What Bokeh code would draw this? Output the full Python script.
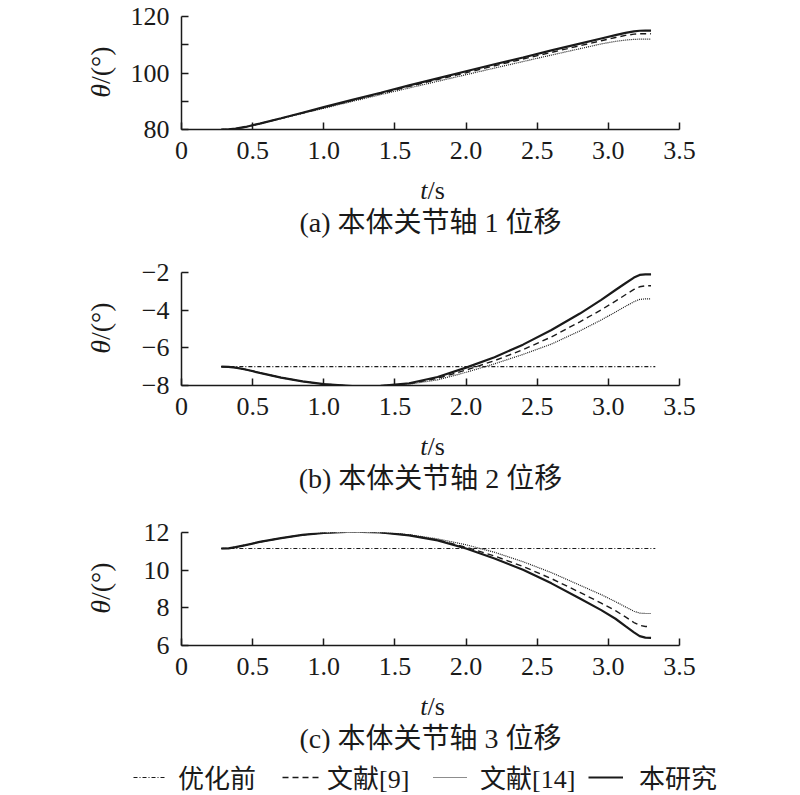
import math
from bokeh.plotting import figure
from bokeh.models import Label, FixedTicker, Legend, LegendItem, Range1d
from bokeh.layouts import column, row
from bokeh.embed import file_html
from bokeh.resources import INLINE

# ---------------- data ----------------
t = [0.28, 0.33, 0.38, 0.45, 0.55, 0.7, 0.85, 1.0, 1.2, 1.4, 1.6, 1.8, 2.0, 2.2,
     2.4, 2.6, 2.8, 2.95, 3.05, 3.12, 3.18, 3.22, 3.26, 3.3]
t_before = [0.28, 3.33]

# (a) joint 1
a_ours = [80.0, 80.05, 80.3, 80.9, 82.1, 84.0, 85.95, 87.9, 90.5, 93.0, 95.6, 98.1,
          100.6, 103.1, 105.5, 108.0, 110.4, 112.2, 113.4, 114.2, 114.75, 114.95,
          115.0, 115.0]
a_ref9 = [80.0, 80.05, 80.3, 80.9, 82.1, 83.95, 85.85, 87.75, 90.3, 92.75, 95.25, 97.7,
          100.1, 102.55, 104.95, 107.3, 109.65, 111.4, 112.55, 113.3, 113.75, 113.88,
          113.9, 113.9]
a_ref14 = [80.0, 80.05, 80.3, 80.9, 82.0, 83.85, 85.7, 87.5, 89.95, 92.35, 94.7, 97.05,
           99.4, 101.75, 104.05, 106.35, 108.6, 110.3, 111.2, 111.65, 111.9, 111.98,
           112.0, 112.0]
a_before = [80.0, 80.0]

# (b) joint 2
b_ours = [-7.0, -7.01, -7.05, -7.15, -7.33, -7.58, -7.78, -7.93, -8.03, -8.02, -7.88,
          -7.55, -7.05, -6.5, -5.83, -5.05, -4.18, -3.45, -2.93, -2.57, -2.27, -2.13,
          -2.1, -2.1]
b_ref9 = [-7.0, -7.01, -7.05, -7.15, -7.33, -7.58, -7.78, -7.93, -8.03, -8.02, -7.9,
          -7.62, -7.18, -6.68, -6.1, -5.42, -4.62, -3.98, -3.52, -3.18, -2.9, -2.76,
          -2.71, -2.7]
b_ref14 = [-7.0, -7.01, -7.05, -7.15, -7.33, -7.58, -7.78, -7.93, -8.03, -8.02, -7.93,
           -7.7, -7.3, -6.85, -6.35, -5.8, -5.1, -4.52, -4.1, -3.8, -3.55, -3.43,
           -3.4, -3.4]
b_before = [-7.0, -7.0]

# (c) joint 3
c_ours = [11.15, 11.16, 11.22, 11.33, 11.5, 11.7, 11.87, 11.98, 12.05, 12.0, 11.85,
          11.58, 11.15, 10.62, 10.02, 9.3, 8.5, 7.88, 7.42, 7.03, 6.7, 6.5, 6.42, 6.4]
c_ref9 = [11.15, 11.16, 11.22, 11.33, 11.5, 11.7, 11.87, 11.98, 12.05, 12.0, 11.86,
          11.6, 11.22, 10.75, 10.2, 9.55, 8.82, 8.25, 7.85, 7.52, 7.22, 7.07, 7.01, 7.0]
c_ref14 = [11.15, 11.16, 11.22, 11.33, 11.5, 11.7, 11.87, 11.98, 12.05, 12.0, 11.88,
           11.66, 11.35, 10.95, 10.45, 9.87, 9.2, 8.7, 8.33, 8.05, 7.82, 7.72, 7.7, 7.7]
c_before = [11.15, 11.15]

x_ticks = [0, 0.5, 1.0, 1.5, 2.0, 2.5, 3.0, 3.5]
x_tick_labels = ["0", "0.5", "1.0", "1.5", "2.0", "2.5", "3.0", "3.5"]

a_yticks = [80, 100, 120]
a_ylabels = ["80", "100", "120"]
a_yminor = [90, 110]
b_yticks = [-8, -6, -4, -2]
b_ylabels = ["\u22128", "\u22126", "\u22124", "\u22122"]
c_yticks = [6, 8, 10, 12]
c_ylabels = ["6", "8", "10", "12"]

captions = ["(a) 本体关节轴 1 位移", "(b) 本体关节轴 2 位移", "(c) 本体关节轴 3 位移"]
series_names = ["优化前", "文献[9]", "文献[14]", "本研究"]

# ---------------- styles / geometry ----------------
SERIF = "Liberation Serif"
MIXED = "'Liberation Serif', 'Noto Sans CJK SC'"
FS = "26px"
FS_CAP = "28px"
FS_YT = "28px"
INK = "#1a1a1a"
TOTAL_W = 790
YLAB_W = 120            # strip holding the rotated y title
FRAME_W, FRAME_H = 498, 113
LEFT = 61               # left border of plot (tick labels) -> axis at x=181
RIGHT = TOTAL_W - YLAB_W - LEFT - FRAME_W
TOP, BOTTOM = 16, 46
ROW_H = TOP + FRAME_H + BOTTOM

STYLES = {
    "before": dict(line_color=INK, line_width=1.2, line_dash="4 2 1 2"),
    "ref9": dict(line_color=INK, line_width=1.4, line_dash="6 4"),
    "ref14": dict(line_color=INK, line_width=1.2, line_dash="1 1"),
    "ours": dict(line_color=INK, line_width=2.2),
}


def blank(width, height):
    f = figure(frame_width=width, frame_height=height, min_border=0,
               x_range=Range1d(0, 1), y_range=Range1d(0, 1),
               x_axis_location=None, y_axis_location=None,
               output_backend="svg", toolbar_location=None)
    f.grid.visible = False
    f.outline_line_color = None
    f.border_fill_color = "white"
    f.background_fill_color = "white"
    return f


def make_block(yrange, yticks, ylabels, yminor, before, ref9, ref14, ours, caption, cap_h):
    p = figure(frame_width=FRAME_W, frame_height=FRAME_H,
               x_range=Range1d(0, 3.5), y_range=Range1d(*yrange),
               output_backend="svg", toolbar_location=None,
               min_border_left=LEFT, min_border_right=RIGHT,
               min_border_top=TOP, min_border_bottom=BOTTOM)
    p.outline_line_color = None
    p.grid.visible = False
    p.background_fill_color = "white"
    p.border_fill_color = "white"

    p.xaxis.ticker = FixedTicker(ticks=x_ticks)
    p.xaxis.major_label_overrides = dict(zip(x_ticks, x_tick_labels))
    p.yaxis.ticker = FixedTicker(ticks=yticks, minor_ticks=yminor)
    p.yaxis.major_label_overrides = dict(zip(yticks, ylabels))
    for ax in (p.xaxis[0], p.yaxis[0]):
        ax.axis_line_color = INK
        ax.axis_line_width = 1.5
        ax.major_tick_line_color = INK
        ax.major_tick_line_width = 1.5
        ax.major_tick_in = 7
        ax.major_tick_out = 0
        ax.minor_tick_line_color = INK
        ax.minor_tick_line_width = 1.5
        ax.minor_tick_in = 7
        ax.minor_tick_out = 0
        ax.major_label_text_font = SERIF
        ax.major_label_text_font_size = FS
        ax.major_label_text_color = INK
    p.xaxis.major_label_standoff = 12
    p.yaxis.major_label_standoff = 12

    p.line(t_before, before, **STYLES["before"])
    p.line(t, ref14, **STYLES["ref14"])
    p.line(t, ref9, **STYLES["ref9"])
    p.line(t, ours, **STYLES["ours"])

    # rotated y title in its own strip
    ylab = blank(YLAB_W, ROW_H)
    yj = BOTTOM + FRAME_H / 2 + 5
    ylab.add_layout(Label(x=100, y=yj, x_units="screen", y_units="screen", text="θ",
                          angle=math.pi / 2, text_font=SERIF, text_font_style="italic",
                          text_font_size=FS_YT, text_align="right", text_baseline="middle",
                          text_color=INK))
    ylab.add_layout(Label(x=100, y=yj, x_units="screen", y_units="screen", text="/(°)",
                          angle=math.pi / 2, text_font=SERIF, text_font_size=FS_YT,
                          text_align="left", text_baseline="middle", text_color=INK))

    # x title and caption strip
    cap = blank(TOTAL_W, cap_h)
    xj = YLAB_W + LEFT + FRAME_W / 2 - 3
    cap.add_layout(Label(x=xj, y=cap_h - 15, x_units="screen", y_units="screen", text="t",
                         text_font=SERIF, text_font_style="italic", text_font_size=FS,
                         text_align="right", text_baseline="middle", text_color=INK))
    cap.add_layout(Label(x=xj, y=cap_h - 15, x_units="screen", y_units="screen", text="/s",
                         text_font=SERIF, text_font_size=FS,
                         text_align="left", text_baseline="middle", text_color=INK))
    cap.add_layout(Label(x=xj + 3, y=cap_h - 47, x_units="screen", y_units="screen",
                         text=caption, text_font=MIXED, text_font_size=FS_CAP,
                         text_align="center", text_baseline="middle", text_color=INK))
    return column(row(ylab, p, spacing=0), cap, spacing=0)


blk_a = make_block((80, 120), a_yticks, a_ylabels, a_yminor, a_before, a_ref9, a_ref14,
                   a_ours, captions[0], 256 - ROW_H)
blk_b = make_block((-8, -2), b_yticks, b_ylabels, [], b_before, b_ref9, b_ref14,
                   b_ours, captions[1], 260 - ROW_H)
blk_c = make_block((6, 12), c_yticks, c_ylabels, [], c_before, c_ref9, c_ref14,
                   c_ours, captions[2], 62)

# legend strip
LEG_H = 795 - 256 - 260 - ROW_H - 62
pl = blank(TOTAL_W, LEG_H)
renderers = [pl.line(x=[-2, -1], y=[-2, -2], **STYLES[k])
             for k in ("before", "ref9", "ref14", "ours")]
leg_x = [133, 282, 433, 588]
leg_glyph_w = [32, 38, 34, 35]
leg_standoff = [13, 7, 13, 16]
for name, r, lx, gw, so in zip(series_names, renderers, leg_x, leg_glyph_w, leg_standoff):
    lg = Legend(items=[LegendItem(label=name, renderers=[r])],
                location=(lx, LEG_H - 17 - 15 - 10), orientation="horizontal",
                glyph_width=gw, glyph_height=30, label_height=30, label_standoff=so,
                padding=0, margin=0, border_line_color=None, background_fill_alpha=0,
                label_text_font=MIXED, label_text_font_size=FS, label_text_color=INK,
                label_text_baseline="middle")
    pl.add_layout(lg)

layout = column(blk_a, blk_b, blk_c, pl, spacing=0)
open("out.html", "w").write(file_html(layout, INLINE))
